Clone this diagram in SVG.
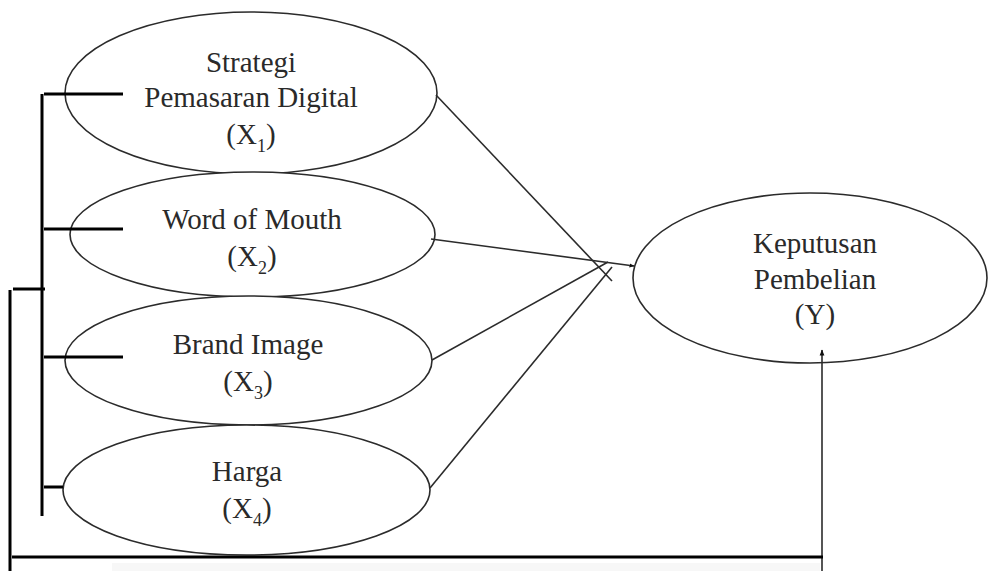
<svg xmlns="http://www.w3.org/2000/svg" width="989" height="571" viewBox="0 0 989 571">
<style>
.node ellipse{fill:#fff;stroke:#2b2b2b;stroke-width:1.6}
.lbl{font-family:"Liberation Serif","Times New Roman",serif;font-size:29px;fill:#2a2a2a;text-anchor:middle}
.sub{font-size:18px}
.con{stroke:#2b2b2b;stroke-width:1.6;fill:none}
.br{stroke:#000;stroke-width:3;fill:none}
</style>
<defs>
<marker id="ah" viewBox="0 0 10 10" refX="9" refY="5" markerWidth="5" markerHeight="5" orient="auto" markerUnits="userSpaceOnUse">
<path d="M0,1 L10,5 L0,9 z" fill="#111"/>
</marker>
<marker id="ah2" viewBox="0 0 10 10" refX="9" refY="5" markerWidth="8" markerHeight="6" orient="auto" markerUnits="userSpaceOnUse">
<path d="M0,1 L10,5 L0,9 z" fill="#111"/>
</marker>
</defs>
<rect width="989" height="571" fill="#fff"/>
<rect x="112" y="563" width="708" height="8" fill="#f7f7f7"/>
<g id="x1" class="node">
<ellipse cx="251" cy="93" rx="186" ry="81"/>
<text class="lbl" x="251" y="72">Strategi</text>
<text class="lbl" x="251" y="107">Pemasaran Digital</text>
<text class="lbl" x="251" y="144">(X<tspan class="sub" dy="8">1</tspan><tspan dy="-8">)</tspan></text>
</g>
<g id="x2" class="node">
<ellipse cx="252.5" cy="234.5" rx="182.5" ry="62.5"/>
<text class="lbl" x="252" y="229">Word of Mouth</text>
<text class="lbl" x="252" y="266">(X<tspan class="sub" dy="8">2</tspan><tspan dy="-8">)</tspan></text>
</g>
<g id="x3" class="node">
<ellipse cx="248.5" cy="360.5" rx="183.5" ry="64.5"/>
<text class="lbl" x="248" y="354">Brand Image</text>
<text class="lbl" x="248" y="391">(X<tspan class="sub" dy="8">3</tspan><tspan dy="-8">)</tspan></text>
</g>
<g id="x4" class="node">
<ellipse cx="246.5" cy="490" rx="183.5" ry="65"/>
<text class="lbl" x="247" y="481">Harga</text>
<text class="lbl" x="247" y="518">(X<tspan class="sub" dy="8">4</tspan><tspan dy="-8">)</tspan></text>
</g>
<g id="y" class="node">
<ellipse cx="810" cy="278" rx="177" ry="85"/>
<text class="lbl" x="815" y="253">Keputusan</text>
<text class="lbl" x="815" y="289">Pembelian</text>
<text class="lbl" x="815" y="324">(Y)</text>
</g>
<g id="connectors">
<line class="con" x1="436" y1="95" x2="612" y2="281"/>
<line class="con" x1="431" y1="239" x2="634" y2="266" marker-end="url(#ah)"/>
<line class="con" x1="432" y1="360" x2="608" y2="262"/>
<line class="con" x1="430" y1="488" x2="612" y2="267"/>
<line class="con" x1="822" y1="571" x2="822" y2="350" marker-end="url(#ah2)"/>
<path class="br" d="M42,94 V516"/>
<path class="br" d="M44,94 H123 M44,229 H123 M44,357 H123 M44,487 H63"/>
<path class="br" d="M13,289 H45"/>
<path class="br" d="M10,290 V571"/>
<path class="br" d="M12,557 H823"/>
</g>
</svg>
